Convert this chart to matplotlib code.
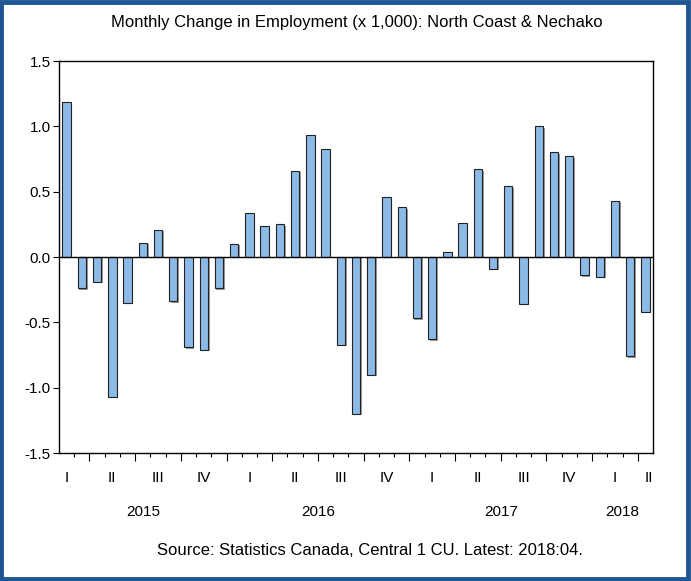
import matplotlib.pyplot as plt
import matplotlib.patheffects as pe
from matplotlib.patches import Rectangle

plt.rcParams["font.family"] = ["Liberation Sans", "DejaVu Sans"]

# monthly change, 2015:02 .. 2018:04
months = [
    "2015-02", "2015-03", "2015-04", "2015-05", "2015-06", "2015-07", "2015-08",
    "2015-09", "2015-10", "2015-11", "2015-12",
    "2016-01", "2016-02", "2016-03", "2016-04", "2016-05", "2016-06", "2016-07",
    "2016-08", "2016-09", "2016-10", "2016-11", "2016-12",
    "2017-01", "2017-02", "2017-03", "2017-04", "2017-05", "2017-06", "2017-07",
    "2017-08", "2017-09", "2017-10", "2017-11", "2017-12",
    "2018-01", "2018-02", "2018-03", "2018-04",
]
values = [
    1.19, -0.24, -0.19, -1.07, -0.35, 0.11, 0.21, -0.34, -0.69, -0.71, -0.24,
    0.10, 0.34, 0.24, 0.25, 0.66, 0.93, 0.83, -0.67, -1.20, -0.90, 0.46, 0.38,
    -0.47, -0.63, 0.04, 0.26, 0.67, -0.09, 0.54, -0.36, 1.00, 0.80, 0.77, -0.14,
    -0.15, 0.43, -0.76, -0.42,
]
quarter_names = ["I", "II", "III", "IV"]

bar_color = "#8cbae6"
frame_color = "#1f5592"

fig = plt.figure(figsize=(6.91, 5.81), dpi=100)
ax = fig.add_axes([0.0854, 0.2203, 0.8596, 0.6747])

x = list(range(len(values)))
bars = ax.bar(x, values, width=0.55, color=bar_color, edgecolor="#222222", linewidth=0.8)
for b in bars:
    b.set_path_effects([pe.SimplePatchShadow(offset=(1.2, -1), shadow_rgbFace="#555555", alpha=0.6),
                        pe.Normal()])
ax.axhline(0, color="black", linewidth=1.0, zorder=1)

ax.set_xlim(-0.5, len(values) - 0.5)
ax.set_ylim(-1.5, 1.5)
ax.set_yticks([-1.5, -1.0, -0.5, 0.0, 0.5, 1.0, 1.5])
ax.set_yticklabels([f"{v:.1f}" for v in ax.get_yticks()], fontsize=11)
ax.tick_params(axis="y", direction="out", length=4, width=0.8, pad=2)

# month / quarter bookkeeping
years = [int(m[:4]) for m in months]
mons = [int(m[5:]) for m in months]
minor = [i - 0.5 for i in range(1, len(values)) if (mons[i] - 1) % 3 != 0]
major = [i - 0.5 for i in range(1, len(values)) if (mons[i] - 1) % 3 == 0]
ax.set_xticks(major)
ax.set_xticks(minor, minor=True)
ax.set_xticklabels([])
ax.tick_params(axis="x", which="major", direction="out", length=6, width=0.8)
ax.tick_params(axis="x", which="minor", direction="out", length=3, width=0.8)

for s in ax.spines.values():
    s.set_linewidth(1.0)

# quarter labels, centred on the middle month of each quarter
trans = ax.get_xaxis_transform()
seen = []
for i, (yr, mo) in enumerate(zip(years, mons)):
    q = (mo - 1) // 3
    if (yr, q) in seen:
        continue
    seen.append((yr, q))
    pos = i + (3 * q + 2 - mo)
    pos = min(pos, len(values) - 0.75)
    ax.text(pos, -0.064, quarter_names[q], transform=trans, ha="center", va="center", fontsize=11)

# year labels, centred on the months shown for that year
for yr in sorted(set(years)):
    idx = [i for i, y in enumerate(years) if y == yr]
    ax.text((idx[0] + idx[-1]) / 2, -0.150, str(yr), transform=trans,
            ha="center", va="center", fontsize=11)

fig.text(0.517, 0.962, "Monthly Change in Employment (x 1,000): North Coast & Nechako",
         ha="center", va="center", fontsize=12)
fig.text(0.535, 0.052, "Source: Statistics Canada, Central 1 CU. Latest: 2018:04.",
         ha="center", va="center", fontsize=12)

# dark blue frame around the whole picture
fig.patches.append(Rectangle((0.002, 0.003), 0.993, 0.994, transform=fig.transFigure,
                             fill=False, edgecolor=frame_color, linewidth=3.5))

fig.savefig("out.png", dpi=100)
